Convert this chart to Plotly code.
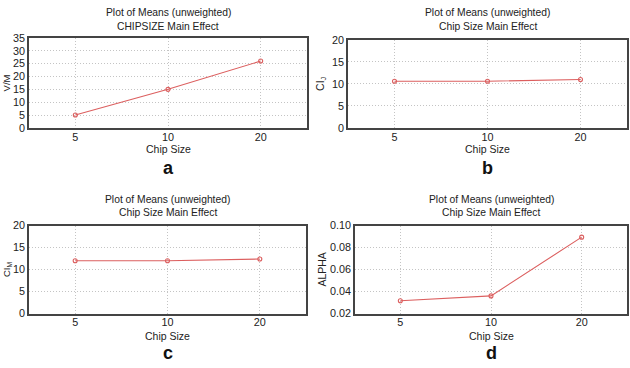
import plotly.graph_objects as go

chip_sizes = ["5", "10", "20"]
vm_means = [5.0, 15.0, 26.0]
cij_means = [10.6, 10.6, 11.0]
cim_means = [12.0, 12.0, 12.4]
alpha_means = [0.0317, 0.0361, 0.0895]

panel_letters = ["a", "b", "c", "d"]
title_line1 = "Plot of Means (unweighted)"
title_line2 = ["CHIPSIZE Main Effect", "Chip Size Main Effect", "Chip Size Main Effect", "Chip Size Main Effect"]
y_titles = ["V/M", "CI<sub>J</sub>", "CI<sub>M</sub>", "ALPHA"]
x_title = "Chip Size"
y_ranges = [[0, 35], [0, 20], [0, 20], [0.02, 0.10]]
y_dticks = [5, 5, 5, 0.02]
series = [vm_means, cij_means, cim_means, alpha_means]

W, H = 630, 368
# plot boxes in pixels: (left, right, top, bottom)
boxes = [(29, 307, 33, 126), (348, 627, 35, 126), (29, 306, 227, 318), (355, 627, 227, 318)]
title_y = [(7, 21), (7, 21), (200, 213), (200, 213)]
xlabel_y = [148, 148, 341, 341]
letter_y = [167, 167, 359, 359]
ylabel_x = [6.5, 321, 6.5, 322]
ylabel_size = [9.5, 10.5, 9.5, 10.5]

LINE = "#dc5f5f"
FONT = "Liberation Sans, Arial, sans-serif"

fig = go.Figure()
annotations = []
for i in range(4):
    l, r, t, b = boxes[i]
    xa = "xaxis" if i == 0 else f"xaxis{i+1}"
    ya = "yaxis" if i == 0 else f"yaxis{i+1}"
    xref = "x" if i == 0 else f"x{i+1}"
    yref = "y" if i == 0 else f"y{i+1}"
    fig.add_trace(go.Scatter(
        x=chip_sizes, y=series[i], mode="lines+markers", xaxis=xref, yaxis=yref,
        line=dict(color=LINE, width=1.1),
        marker=dict(symbol="circle-open", size=4, color=LINE, line=dict(width=1.1)),
        showlegend=False,
    ))
    axis_common = dict(showline=True, linecolor="#444444", linewidth=1.5, mirror=True,
                       showgrid=True, gridcolor="#c4c4c4", griddash="1px,2px", gridwidth=1,
                       zeroline=False, tickfont=dict(family=FONT, size=10.8, color="#222222"),
                       ticks="")
    fig.layout[xa] = dict(domain=[l / W, r / W], anchor=yref, type="category",
                          range=[-0.5, 2.5], ticklabelstandoff=-2, **axis_common)
    fig.layout[ya] = dict(domain=[1 - b / H, 1 - t / H], anchor=xref, range=y_ranges[i],
                          dtick=y_dticks[i], tickformat=".2f" if i == 3 else "d",
                          ticklabelstandoff=0, **axis_common)
    cx = (l + r) / 2 / W
    common = dict(xref="paper", yref="paper", showarrow=False, xanchor="center", yanchor="middle",
                  borderpad=0)
    annotations.append(dict(text=title_line1, x=cx, y=1 - title_y[i][0] / H,
                            font=dict(family=FONT, size=10.3, color="#222222"), **common))
    annotations.append(dict(text=title_line2[i], x=cx, y=1 - title_y[i][1] / H,
                            font=dict(family=FONT, size=10.3, color="#222222"), **common))
    annotations.append(dict(text=x_title, x=cx, y=1 - xlabel_y[i] / H,
                            font=dict(family=FONT, size=10.5, color="#222222"), **common))
    annotations.append(dict(text="<b>" + panel_letters[i] + "</b>", x=cx, y=1 - letter_y[i] / H,
                            font=dict(family=FONT, size=18, color="#111111"), **common))
    annotations.append(dict(text=y_titles[i], x=ylabel_x[i] / W, y=1 - (t + b) / 2 / H, textangle=-90,
                            font=dict(family=FONT, size=ylabel_size[i], color="#222222"), **common))

fig.update_layout(width=W, height=H, margin=dict(l=0, r=0, t=0, b=0),
                  paper_bgcolor="white", plot_bgcolor="white", annotations=annotations)
fig.write_html("out.html")
